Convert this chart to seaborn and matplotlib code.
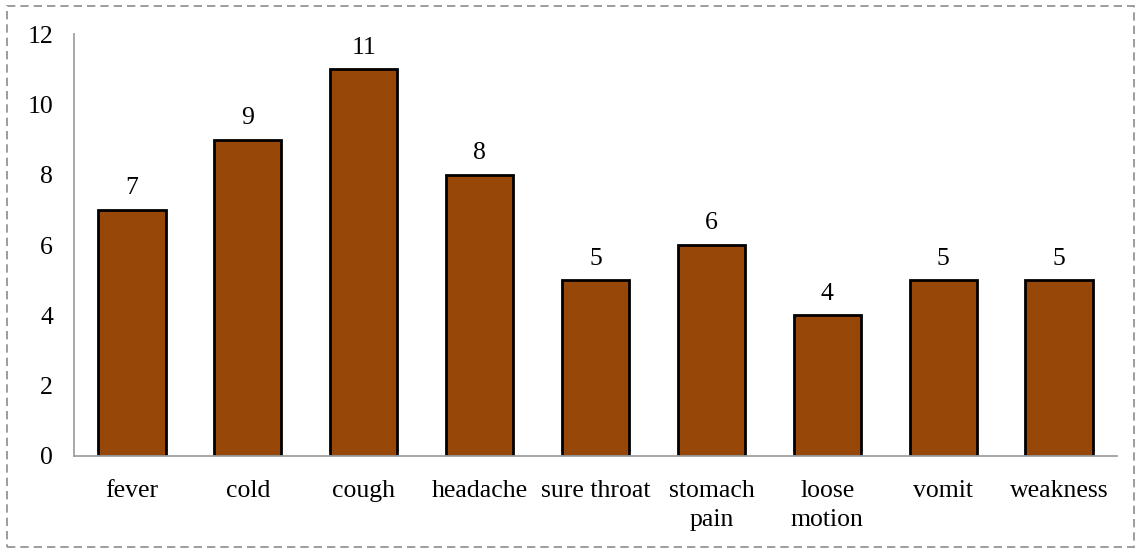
import matplotlib
matplotlib.use("Agg")
import matplotlib.pyplot as plt
import pandas as pd
import seaborn as sns
from matplotlib.patches import Rectangle

symptoms = ["fever", "cold", "cough", "headache", "sure throat",
            "stomach\npain", "loose\nmotion", "vomit", "weakness"]
counts = [7, 9, 11, 8, 5, 6, 4, 5, 5]
y_ticks = [0, 2, 4, 6, 8, 10, 12]

BAR_COLOR = "#974808"
AXIS_GREY = "#a0a0a0"
FS = 18.5

sns.set_theme(style="white")
plt.rcParams["font.family"] = ["Liberation Serif", "DejaVu Serif"]
plt.rcParams["text.color"] = "black"

df = pd.DataFrame({"symptom": symptoms, "count": counts})

fig = plt.figure(figsize=(11.41, 5.5), dpi=100)
ax = fig.add_axes([0.0649, 0.171, 0.9141, 0.767])

sns.barplot(data=df, x="symptom", y="count", color=BAR_COLOR, width=0.58,
            edgecolor="black", linewidth=2, saturation=1, ax=ax)

for i, v in enumerate(counts):
    ax.text(i, v + 0.3, str(v), ha="center", va="bottom", fontsize=FS)

ax.set_ylim(0, 12)
ax.set_xlim(-0.5, len(symptoms) - 0.5)
ax.set_yticks(y_ticks)
ax.tick_params(axis="y", labelsize=FS, pad=15, length=0, labelcolor="black")
ax.tick_params(axis="x", labelsize=FS, pad=17, length=0, labelcolor="black")
for lab in ax.get_xticklabels():
    lab.set_linespacing(1.45)
ax.set_xlabel("")
ax.set_ylabel("")
for side in ["top", "right"]:
    ax.spines[side].set_visible(False)
for side in ["left", "bottom"]:
    ax.spines[side].set_color(AXIS_GREY)
    ax.spines[side].set_linewidth(1.3)

border = Rectangle((0.006, 0.005), 0.988, 0.985, transform=fig.transFigure,
                   fill=False, edgecolor="#8c8c8c", linestyle=(0, (5, 3)),
                   linewidth=1.2)
fig.patches.append(border)

fig.savefig("out.png", dpi=100)
